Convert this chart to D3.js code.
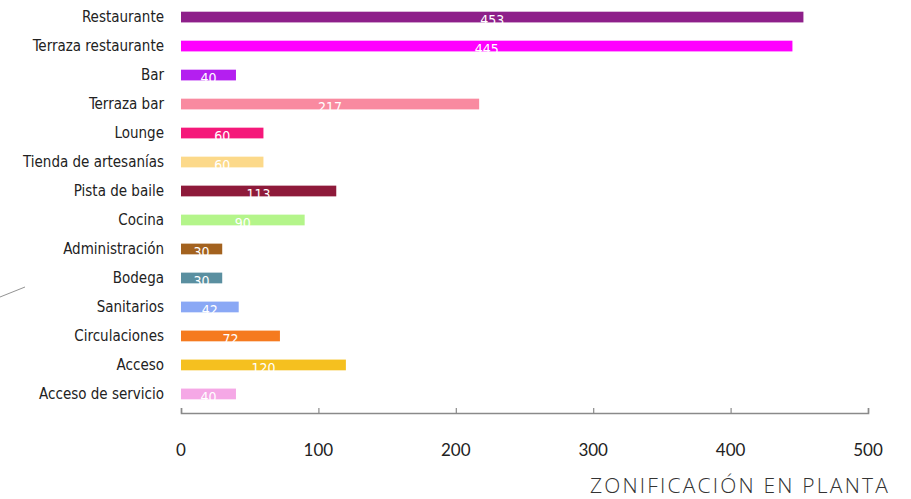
<!DOCTYPE html>
<html>
<head>
<meta charset="utf-8">
<script src="https://cdn.jsdelivr.net/npm/d3@7"></script>
<style>
  html, body { margin: 0; padding: 0; background: #fff; }
  svg { display: block; }
</style>
</head>
<body>
<svg id="chart"></svg>
<script>
const categories = ["Restaurante", "Terraza restaurante", "Bar", "Terraza bar", "Lounge",
  "Tienda de artesanías", "Pista de baile", "Cocina", "Administración", "Bodega",
  "Sanitarios", "Circulaciones", "Acceso", "Acceso de servicio"];
const values = [453, 445, 40, 217, 60, 60, 113, 90, 30, 30, 42, 72, 120, 40];
const colors = ["#8e1f8a", "#ff00ff", "#b41ff0", "#f98aa0", "#f5187a", "#fcd98a", "#8e1a3a",
  "#b4f58a", "#a3621f", "#5a8fa0", "#8aa8f5", "#f57a1f", "#f5c01f", "#f5a8e6"];
const ticks = [0, 100, 200, 300, 400, 500];
const title = "ZONIFICACIÓN EN PLANTA";

const width = 911, height = 499;
const svg = d3.select("#chart").attr("width", width).attr("height", height);

const x = d3.scaleLinear().domain([0, 500]).range([181, 868]);
const y = d3.scaleBand().domain(categories).range([3, 408]).paddingInner(0.63).paddingOuter(0.3);

// decorative stroke on the left
svg.append("line")
  .attr("x1", 0).attr("y1", 297).attr("x2", 25).attr("y2", 287)
  .attr("stroke", "#777").attr("stroke-width", 0.8);

svg.append("g").selectAll("rect")
  .data(values)
  .enter().append("rect")
  .attr("x", x(0))
  .attr("y", (d, i) => y(categories[i]))
  .attr("width", d => x(d) - x(0))
  .attr("height", y.bandwidth())
  .attr("fill", (d, i) => colors[i]);

// value labels (white, clipped at the bar like the original)
svg.append("defs").selectAll("clipPath")
  .data(values).enter().append("clipPath")
  .attr("id", (d, i) => "c" + i)
  .append("rect")
  .attr("x", x(0))
  .attr("y", (d, i) => y(categories[i]))
  .attr("width", d => x(d) - x(0))
  .attr("height", y.bandwidth() + 1);

svg.append("g").selectAll("text")
  .data(values)
  .enter().append("text")
  .attr("clip-path", (d, i) => `url(#c${i})`)
  .attr("x", d => (x(0) + x(d)) / 2)
  .attr("y", (d, i) => y(categories[i]) + y.bandwidth() / 2 + 8)
  .attr("text-anchor", "middle")
  .attr("font-family", "'DejaVu Sans Condensed', 'DejaVu Sans', sans-serif")
  .attr("font-size", 14)
  .attr("fill", "#fff")
  .text(d => d);

// category labels
svg.append("g").selectAll("text")
  .data(categories)
  .enter().append("text")
  .attr("x", 164)
  .attr("y", d => y(d) + y.bandwidth() / 2)
  .attr("dy", "0.35em")
  .attr("text-anchor", "end")
  .attr("font-family", "'DejaVu Sans Condensed', sans-serif")
  .attr("font-size", 15)
  .attr("fill", "#222")
  .text(d => d);

// x axis
const axis = svg.append("g")
  .attr("transform", "translate(0,413)")
  .call(d3.axisTop(x).tickValues(ticks).tickSize(5).tickFormat(""));
axis.select(".domain").attr("stroke", "#8a8a8a").attr("stroke-width", 1.6);
axis.selectAll(".tick line").attr("stroke", "#8a8a8a").attr("stroke-width", 1.2);

svg.append("g").selectAll("text")
  .data(ticks)
  .enter().append("text")
  .attr("x", d => x(d))
  .attr("y", 456)
  .attr("text-anchor", "middle")
  .attr("font-family", "Lato, 'Open Sans', sans-serif")
  .attr("font-size", 17)
  .attr("fill", "#222")
  .text(d => d);

svg.append("text")
  .attr("x", 890)
  .attr("y", 493)
  .attr("text-anchor", "end")
  .attr("font-family", "'Open Sans', sans-serif")
  .attr("font-weight", 300)
  .attr("font-size", 21)
  .attr("letter-spacing", 2.2)
  .attr("fill", "#333")
  .text(title);
</script>
</body>
</html>
